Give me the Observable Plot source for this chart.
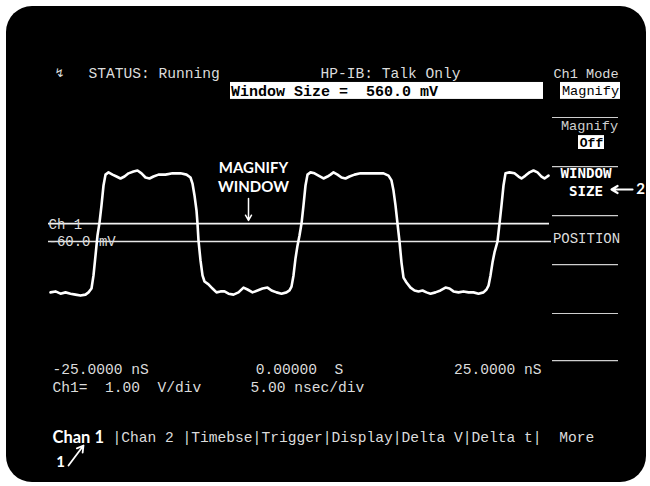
<!DOCTYPE html>
<html><head><meta charset="utf-8">
<script src="https://cdn.jsdelivr.net/npm/d3@7"></script>
<script src="https://cdn.jsdelivr.net/npm/@observablehq/plot@0.6"></script>
<style>
html,body{margin:0;padding:0;background:#fff;}
#wrap{position:relative;width:650px;height:486px;overflow:hidden;}
#screen{position:absolute;left:6px;top:6px;width:640px;height:476px;background:#000;border-radius:26px;}
#chart{position:absolute;left:0;top:0;}
svg text{white-space:pre;}
</style></head><body>
<div id="wrap"><div id="screen"></div><div id="chart"></div></div>
<script>
// Waveform: time in ns, level in volts
const timeNs = [-25.0,-24.5,-24.0,-23.5,-23.0,-22.5,-22.0,-21.5,-21.2,-20.9,-20.7,-20.5,-20.3,-20.1,-19.9,-19.7,-19.5,-19.2,-18.8,-18.4,-18.0,-17.6,-17.2,-16.7,-16.3,-15.9,-15.5,-15.1,-14.7,-14.2,-13.5,-12.8,-12.0,-11.4,-11.0,-10.8,-10.6,-10.4,-10.3,-10.2,-10.0,-9.8,-9.6,-9.2,-8.8,-8.4,-8.0,-7.6,-7.2,-6.7,-6.2,-5.7,-5.3,-4.8,-4.3,-3.8,-3.3,-2.9,-2.4,-1.9,-1.4,-1.1,-0.9,-0.7,-0.5,-0.3,-0.1,0.1,0.3,0.5,0.7,1.0,1.4,1.8,2.3,2.7,3.0,3.3,3.7,4.1,4.5,4.9,5.4,6.0,6.8,7.6,8.3,8.8,9.1,9.3,9.5,9.7,9.9,10.1,10.3,10.6,11.0,11.4,11.8,12.2,12.6,13.0,13.5,14.0,14.5,14.9,15.3,15.8,16.3,16.8,17.3,17.8,18.3,18.6,18.8,19.0,19.2,19.4,19.7,19.9,20.1,20.3,20.5,20.9,21.4,21.8,22.1,22.5,22.9,23.3,23.7,24.1,24.4,24.8];
const volts = [-1.65,-1.62,-1.69,-1.65,-1.69,-1.72,-1.75,-1.72,-1.65,-1.53,-1.12,-0.50,0.13,0.53,1.07,1.69,2.03,2.10,2.03,1.97,1.91,1.97,2.07,2.13,2.16,2.07,1.94,1.91,1.97,2.03,2.03,2.07,2.07,2.03,1.94,1.75,1.38,0.91,0.50,-0.03,-0.65,-1.12,-1.31,-1.40,-1.53,-1.65,-1.62,-1.62,-1.69,-1.72,-1.65,-1.50,-1.56,-1.65,-1.59,-1.53,-1.50,-1.59,-1.65,-1.69,-1.65,-1.59,-1.47,-1.12,-0.59,-0.19,0.13,0.50,1.07,1.69,2.03,2.10,2.07,2.00,1.91,1.97,2.03,2.10,2.03,1.94,1.91,1.97,2.03,2.07,2.07,2.07,2.07,2.00,1.85,1.53,1.07,0.50,-0.06,-0.72,-1.19,-1.34,-1.50,-1.59,-1.62,-1.59,-1.65,-1.69,-1.65,-1.59,-1.50,-1.53,-1.62,-1.65,-1.62,-1.65,-1.65,-1.69,-1.65,-1.56,-1.44,-1.12,-0.72,-0.40,-0.06,0.50,1.07,1.69,2.07,2.10,2.07,1.97,1.91,2.00,2.10,2.16,2.10,1.97,1.91,2.00];

// Magnify window: top edge and position (V)
const windowLevels = [0.5, -0.06];
const windowLevelLabels = ["Ch 1", "-60.0 mV"];

// Screen texts
const statusLine = ["↯", "STATUS: Running", "HP-IB: Talk Only"];
const messageText = ["Window Size =  560.0 mV"];
const softkeyTitle = ["Ch1 Mode"];
const softkeyBoxed = ["Magnify", "Off"];
const softkeyPlain = ["Magnify", "POSITION"];
const softkeyActive = ["WINDOW", "SIZE"];
const timeLabels = ["-25.0000 nS", "0.00000  S", "25.0000 nS"];
const scaleLabels = ["Ch1=  1.00  V/div", "5.00 nsec/div"];
const menuActive = ["Chan 1"];
const menuRest = ["|Chan 2 |Timebse|Trigger|Display|Delta V|Delta t|  More"];
const callouts = ["MAGNIFY", "WINDOW", "2", "1"];

const wave = timeNs.map((t, i) => ({t, v: volts[i]}));
const mono = "Liberation Mono, DejaVu Sans Mono, monospace";
const callFont = "Lato, Open Sans, sans-serif";
const T = (arr, o) => Plot.text(arr, {text: d => d, fill: "#dcdcdc", fontFamily: mono, fontSize: 14.6, lineAnchor: "middle", ...o});

const sepY = [3.815, 2.28, 0.75, -0.78, -2.31, -3.78];

const chart = Plot.plot({
  width: 650, height: 486,
  margin: 0,
  style: {background: "transparent", overflow: "visible"},
  x: {domain: [-25, 25], range: [50, 550], axis: null},
  y: {domain: [-0.06, 0.5], range: [241, 223.08], axis: null},
  marks: [
    // message box and softkey boxes
    Plot.rect([0], {x1: -7.0, x2: 24.3, y1: 4.38, y2: 4.91, fill: "white"}),
    Plot.rect([0], {x1: 26.0, x2: 32.0, y1: 4.38, y2: 4.91, fill: "white"}),
    Plot.rect([0], {x1: 27.8, x2: 30.4, y1: 2.815, y2: 3.25, fill: "white"}),
    // softkey separators
    Plot.ruleY(sepY, {x1: 25.2, x2: 31.8, stroke: "#cfcfcf", strokeWidth: 1.2}),
    // magnify window lines
    Plot.ruleY([windowLevels[0]], {x1: -25.2, x2: 24.9, stroke: "#f2f2f2", strokeWidth: 1.6}),
    Plot.ruleY([windowLevels[1]], {x1: -25.2, x2: 25.1, stroke: "#e6e6e6", strokeWidth: 1.3}),
    T([windowLevelLabels[0]], {x: -25.2, y: 0.47, textAnchor: "start", fontSize: 14}),
    T([windowLevelLabels[1]], {x: -25.2, y: -0.06, textAnchor: "start", fontSize: 14}),
    // waveform
    Plot.line(wave, {x: "t", y: "v", stroke: "white", strokeWidth: 2.6, strokeLinejoin: "round"}),
    // status line
    T([statusLine[0]], {x: -24.6, y: 5.19, textAnchor: "start", fontFamily: "DejaVu Sans", fontSize: 12}),
    T([statusLine[1]], {x: -21.2, y: 5.19, textAnchor: "start"}),
    T([statusLine[2]], {x: 2.0, y: 5.19, textAnchor: "start"}),
    T(softkeyTitle, {x: 28.55, y: 5.19, textAnchor: "middle", fontSize: 13.6}),
    T(messageText, {x: -6.95, y: 4.64, textAnchor: "start", fill: "black", fontSize: 15, fontWeight: "bold"}),
    T([softkeyBoxed[0]], {x: 29.0, y: 4.64, textAnchor: "middle", fill: "black", fontSize: 13.6}),
    T([softkeyPlain[0]], {x: 28.9, y: 3.565, textAnchor: "middle", fontSize: 13.6, fill: "#cfcfcf"}),
    T([softkeyBoxed[1]], {x: 29.1, y: 3.03, textAnchor: "middle", fill: "black", fontSize: 13, fontWeight: "bold"}),
    T([softkeyActive[0]], {x: 28.55, y: 2.065, textAnchor: "middle", fill: "white", fontFamily: "DejaVu Sans Mono", fontWeight: "bold", fontSize: 14.2}),
    T([softkeyActive[1]], {x: 28.55, y: 1.50, textAnchor: "middle", fill: "white", fontFamily: "DejaVu Sans Mono", fontWeight: "bold", fontSize: 14.2}),
    T([softkeyPlain[1]], {x: 28.6, y: 0.03, textAnchor: "middle", fontSize: 14}),
    // time / scale readouts
    T([timeLabels[0]], {x: -24.8, y: -4.06, textAnchor: "start"}),
    T([timeLabels[1]], {x: -0.1, y: -4.06, textAnchor: "middle"}),
    T([timeLabels[2]], {x: 24.1, y: -4.06, textAnchor: "end"}),
    T([scaleLabels[0]], {x: -24.8, y: -4.62, textAnchor: "start"}),
    T([scaleLabels[1]], {x: -5.0, y: -4.62, textAnchor: "start"}),
    // menu row
    Plot.text(menuActive, {x: -24.8, y: -6.185, text: d => d, textAnchor: "start", fill: "white", fontFamily: callFont, fontWeight: "bold", fontSize: 16.5, lineAnchor: "middle"}),
    T(menuRest, {x: -18.8, y: -6.185, textAnchor: "start"}),
    // callouts
    Plot.text([callouts[0]], {x: -4.7, y: 2.22, text: d => d, fill: "white", fontFamily: callFont, fontWeight: "bold", fontSize: 15, lineAnchor: "middle"}),
    Plot.text([callouts[1]], {x: -4.7, y: 1.63, text: d => d, fill: "white", fontFamily: callFont, fontWeight: "bold", fontSize: 15, lineAnchor: "middle"}),
    Plot.arrow([0], {x1: -5.2, y1: 1.28, x2: -5.2, y2: 0.60, stroke: "white", strokeWidth: 1.5, headLength: 6}),
    Plot.arrow([0], {x1: 33.2, y1: 1.565, x2: 31.1, y2: 1.565, stroke: "white", strokeWidth: 2.2, headLength: 6}),
    Plot.text([callouts[2]], {x: 34.0, y: 1.565, text: d => d, fill: "white", fontFamily: callFont, fontWeight: "bold", fontSize: 15, lineAnchor: "middle"}),
    Plot.text([callouts[3]], {x: -24.0, y: -6.97, text: d => d, fill: "white", fontFamily: callFont, fontWeight: "bold", fontSize: 15, lineAnchor: "middle"}),
    Plot.arrow([0], {x1: -23.2, y1: -7.06, x2: -21.7, y2: -6.435, stroke: "white", strokeWidth: 1.8, headLength: 6})
  ]
});
document.getElementById("chart").appendChild(chart);
</script>
</body></html>
